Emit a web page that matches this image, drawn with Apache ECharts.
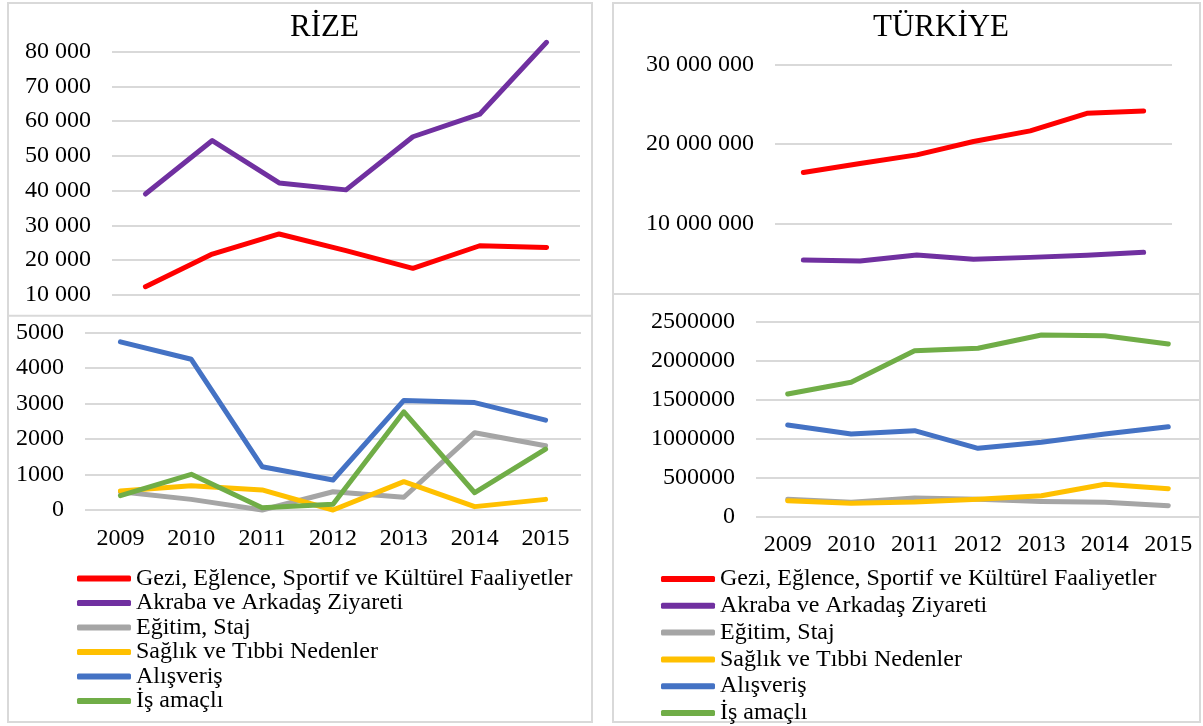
<!DOCTYPE html>
<html>
<head>
<meta charset="utf-8">
<title>Rize / Türkiye</title>
<script src="https://cdn.jsdelivr.net/npm/echarts@6.0.0/dist/echarts.min.js"></script>
<style>
  html, body { margin: 0; padding: 0; background: #fff; }
  #main { width: 1203px; height: 726px; }
</style>
</head>
<body>
<div id="main"></div>
<script>
// yillar
var years = ['2009', '2010', '2011', '2012', '2013', '2014', '2015'];

var names = [
  'Gezi, Eğlence, Sportif ve Kültürel Faaliyetler',
  'Akraba ve Arkadaş Ziyareti',
  'Eğitim, Staj',
  'Sağlık ve Tıbbi Nedenler',
  'Alışveriş',
  'İş amaçlı'
];
var colors = ['#FF0000', '#7030A0', '#A5A5A5', '#FFC000', '#4472C4', '#70AD47'];

// RİZE
var rizeGezi     = [12300, 21700, 27500, 22700, 17600, 24100, 23600];
var rizeAkraba   = [39000, 54400, 42200, 40200, 55500, 62000, 82700];
var rizeEgitim   = [515, 300, 0, 515, 360, 2180, 1810];
var rizeSaglik   = [535, 685, 565, 0, 800, 95, 300];
var rizeAlisveris= [4740, 4250, 1220, 845, 3090, 3030, 2535];
var rizeIs       = [405, 1005, 65, 160, 2770, 487, 1720];

// TÜRKİYE
var trGezi      = [16410000, 17550000, 18650000, 20330000, 21680000, 23900000, 24200000];
var trAkraba    = [5370000, 5240000, 6000000, 5450000, 5700000, 5960000, 6340000];
var trEgitim    = [223000, 185000, 240000, 223000, 196000, 185000, 141000];
var trSaglik    = [205000, 172000, 188000, 223000, 269000, 415000, 359000];
var trAlisveris = [1176000, 1060000, 1103000, 877000, 954000, 1060000, 1154000];
var trIs        = [1573000, 1723000, 2128000, 2159000, 2329000, 2321000, 2214000];

var FONT = '"Liberation Serif", "Times New Roman", serif';

// 80 000 seklinde (bosluklu)
function spaced(v) {
  return String(v).replace(/\B(?=(\d{3})+(?!\d))/g, ' ');
}
// 5000 seklinde (ayiracsiz)
function plain(v) {
  return String(v);
}

function lineSeries(idx, grid, data) {
  return {
    name: names[idx],
    type: 'line',
    xAxisIndex: grid,
    yAxisIndex: grid,
    data: data,
    symbol: 'none',
    clip: false,
    itemStyle: { color: colors[idx] },
    lineStyle: { color: colors[idx], width: 5, cap: 'round', join: 'round' },
    emphasis: { disabled: true }
  };
}

function xAxis(grid, showLabels, margin) {
  return {
    type: 'category',
    gridIndex: grid,
    data: years,
    boundaryGap: true,
    axisLine: { show: false },
    axisTick: { show: false },
    axisLabel: { show: showLabels, color: '#000', fontFamily: FONT, fontSize: 24, margin: margin }
  };
}

function yAxis(grid, min, max, interval, fmt, hideMin) {
  var ax = {
    type: 'value',
    gridIndex: grid,
    min: min,
    max: max,
    interval: interval,
    axisLine: { show: false },
    axisTick: { show: false },
    axisLabel: { color: '#000', fontFamily: FONT, fontSize: 24, margin: 21, formatter: fmt },
    splitLine: { lineStyle: { color: '#d9d9d9', width: 2 } }
  };
  if (hideMin) {
    ax.axisLabel.showMinLabel = false;
    ax.splitLine.showMinLine = false;
  }
  return ax;
}

function legend(left, top, gap) {
  return {
    orient: 'vertical',
    left: left,
    top: top,
    width: 520,
    height: 200,
    padding: 0,
    itemWidth: 54,
    itemHeight: 6,
    itemGap: gap,
    icon: 'roundRect',
    data: names,
    textStyle: { color: '#000', fontFamily: FONT, fontSize: 24, lineHeight: 23 }
  };
}

var myChart = echarts.init(document.getElementById('main'));

var option = {
  animation: false,
  title: [
    { text: 'RİZE', left: 290, top: 12, padding: 0,
      textStyle: { fontFamily: FONT, fontSize: 31, fontWeight: 'normal', color: '#000' } },
    { text: 'TÜRKİYE', left: 873, top: 12, padding: 0,
      textStyle: { fontFamily: FONT, fontSize: 31, fontWeight: 'normal', color: '#000' } }
  ],
  legend: [legend(77, 566.5, 0.5), legend(661, 567, 2.8)],
  grid: [
    { left: 112, top: 51.7, width: 468, height: 243 },
    { left: 85, top: 332.7, width: 496, height: 177.3 },
    { left: 775, top: 65, width: 397, height: 237.5 },
    { left: 756, top: 321.7, width: 444, height: 195 }
  ],
  xAxis: [xAxis(0, false, 10), xAxis(1, true, 17), xAxis(2, false, 10), xAxis(3, true, 16)],
  yAxis: [
    yAxis(0, 10000, 80000, 10000, spaced),
    yAxis(1, 0, 5000, 1000, plain),
    yAxis(2, 0, 30000000, 10000000, spaced, true),
    yAxis(3, 0, 2500000, 500000, plain)
  ],
  series: [
    lineSeries(0, 0, rizeGezi),
    lineSeries(1, 0, rizeAkraba),
    lineSeries(2, 1, rizeEgitim),
    lineSeries(3, 1, rizeSaglik),
    lineSeries(4, 1, rizeAlisveris),
    lineSeries(5, 1, rizeIs),
    lineSeries(0, 2, trGezi),
    lineSeries(1, 2, trAkraba),
    lineSeries(2, 3, trEgitim),
    lineSeries(3, 3, trSaglik),
    lineSeries(4, 3, trAlisveris),
    lineSeries(5, 3, trIs)
  ],
  // panel cerceveleri
  graphic: [
    { type: 'rect', shape: { x: 8, y: 3, width: 584, height: 719 },
      style: { fill: 'none', stroke: '#d9d9d9', lineWidth: 2 }, silent: true },
    { type: 'line', shape: { x1: 8, y1: 315.7, x2: 592, y2: 315.7 },
      style: { stroke: '#d9d9d9', lineWidth: 2 }, silent: true },
    { type: 'rect', shape: { x: 613, y: 3, width: 587, height: 719 },
      style: { fill: 'none', stroke: '#d9d9d9', lineWidth: 2 }, silent: true },
    { type: 'line', shape: { x1: 613, y1: 294, x2: 1200, y2: 294 },
      style: { stroke: '#d9d9d9', lineWidth: 2 }, silent: true }
  ]
};

myChart.setOption(option);
</script>
</body>
</html>
